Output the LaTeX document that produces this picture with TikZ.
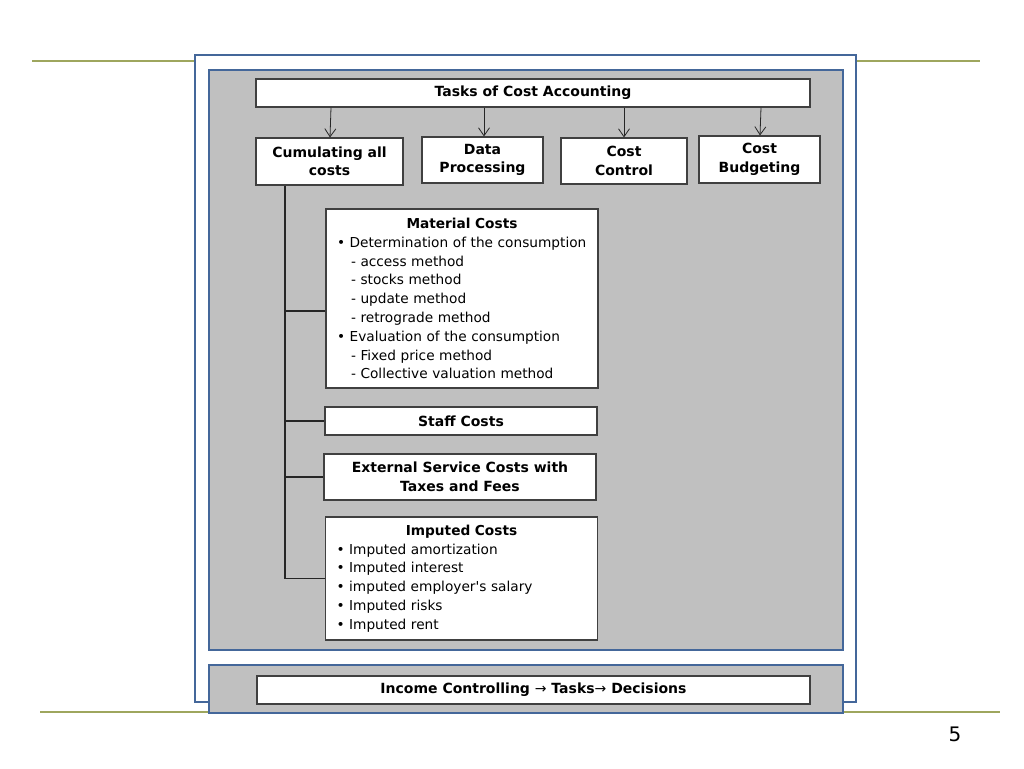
\documentclass[tikz,border=0pt]{standalone}
\usepackage{fontspec}
\setmainfont{DejaVu Sans}
\usetikzlibrary{arrows.meta}
\definecolor{frameblue}{HTML}{44679A}
\definecolor{panelgray}{HTML}{C0C0C0}
\definecolor{olive}{HTML}{9EA65E}
\definecolor{boxline}{HTML}{404040}
\begin{document}
\begin{tikzpicture}[x=1pt,y=-1pt,
  box/.style={draw=boxline,line width=1.1pt,fill=white,inner sep=0pt,align=center,font=\fontsize{14}{18.5}\selectfont\bfseries},
  listbox/.style={draw=boxline,line width=1.1pt,fill=white,inner xsep=11pt,inner ysep=0pt,text width=250pt,font=\fontsize{13.7}{18.8}\selectfont},
  arr/.style={-{Straight Barb[length=8pt,width=11pt]},line width=0.8pt,draw=black!85},
  tree/.style={line width=1.1pt,draw=black!85},
  rule/.style={draw=olive,line width=1.2pt},
  frame/.style={draw=frameblue,line width=2.6pt}]
\useasboundingbox (0,0) rectangle (1024,768);
% olive rules
\draw[rule] (32,61) -- (980,61);
\draw[rule] (40,712) -- (1000,712);
% outer white frame
\draw[frame,fill=white] (195,55) rectangle (856,702);
% panels
\draw[frame,fill=panelgray] (209,70) rectangle (843,650);
\draw[frame,fill=panelgray] (209,665) rectangle (843,713);
% top boxes
\node[box,minimum width=554pt,minimum height=28pt] (tasks) at (533,93) {Tasks of Cost Accounting};
\node[box,minimum width=147pt,minimum height=47pt] (cum) at (329.5,161.5) {Cumulating all\\costs};
\node[box,minimum width=121pt,minimum height=46pt] (data) at (482.5,160) {Data\\Processing};
\node[box,minimum width=126pt,minimum height=46pt] (ctrl) at (624,161) {Cost\\Control};
\node[box,minimum width=121pt,minimum height=47pt] (budg) at (759.5,159.5) {Cost\\Budgeting};
\draw[arr] (tasks.south -| 331,0) -- (cum.north -| 330,0);
\draw[arr] (tasks.south -| 484,0) -- (data.north -| 484,0);
\draw[arr] (tasks.south -| 624,0) -- (ctrl.north -| 624,0);
\draw[arr] (tasks.south -| 761,0) -- (budg.north -| 760,0);
% cost type boxes
\node[listbox,minimum height=179pt] (mat) at (462,298.5) {{\centering\bfseries Material Costs\par}
\raggedright
• Determination of the consumption\\
\hspace*{14pt}- access method\\
\hspace*{14pt}- stocks method\\
\hspace*{14pt}- update method\\
\hspace*{14pt}- retrograde method\\
• Evaluation of the consumption\\
\hspace*{14pt}- Fixed price method\\
\hspace*{14pt}- Collective valuation method};
\node[box,minimum width=272pt,minimum height=28pt] (staff) at (461,421) {Staff Costs};
\node[box,minimum width=272pt,minimum height=46pt] (ext) at (460,477) {External Service Costs with\\Taxes and Fees};
\node[listbox,minimum height=123pt] (imp) at (461.5,578.5) {{\centering\bfseries Imputed Costs\par}
\raggedright
• Imputed amortization\\
• Imputed interest\\
• imputed employer\textquotesingle s salary\\
• Imputed risks\\
• Imputed rent};
% tree
\coordinate (t0) at (285,0);
\draw[tree] (cum.south -| t0) -- (t0 |- imp.west) -- (imp.west);
\draw[tree] (t0 |- 0,311) -- (mat.west |- 0,311);
\draw[tree] (t0 |- staff.west) -- (staff.west);
\draw[tree] (t0 |- ext.west) -- (ext.west);
% bottom bar
\node[box,minimum width=553pt,minimum height=28pt] (inc) at (533.5,690) {Income Controlling {\mdseries →} Tasks{\mdseries →} Decisions};
\node[font=\fontsize{20}{24}\selectfont] (pg) at (955,734) {5};
\end{tikzpicture}
\end{document}
